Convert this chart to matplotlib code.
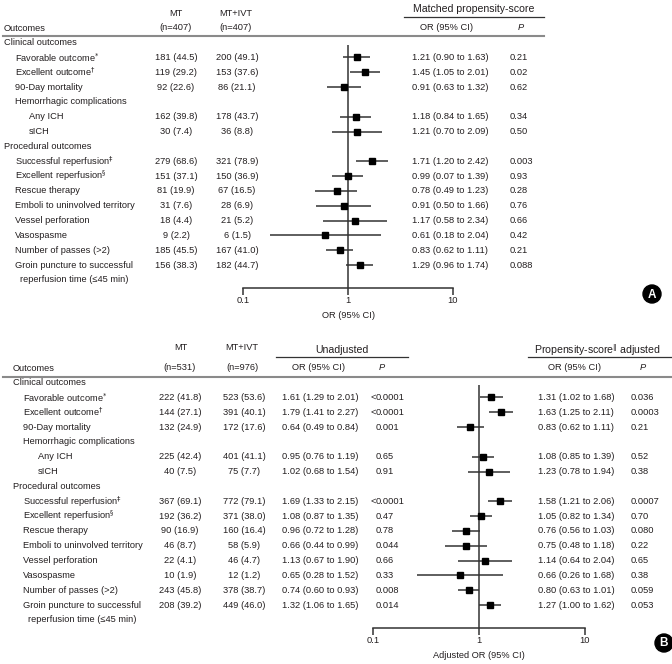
import matplotlib
matplotlib.use('Agg')
import matplotlib.pyplot as plt
from matplotlib.patches import Circle
from matplotlib.ticker import FixedLocator, FixedFormatter, NullLocator

plt.rcParams['font.family'] = ['Liberation Sans', 'DejaVu Sans']
plt.rcParams['mathtext.fontset'] = 'dejavusans'

# ---------------- data ----------------
row_labels = ['Clinical outcomes', r'Favorable outcome$^{*}$', r'Excellent outcome$^{\dagger}$',
              '90-Day mortality', 'Hemorrhagic complications', 'Any ICH', 'sICH',
              'Procedural outcomes', r'Successful reperfusion$^{\ddagger}$',
              r'Excellent reperfusion$^{\S}$', 'Rescue therapy', 'Emboli to uninvolved territory',
              'Vessel perforation', 'Vasospasme', 'Number of passes (>2)',
              'Groin puncture to successful\nreperfusion time (≤45 min)']
row_levels = [0, 1, 1, 1, 1, 2, 2, 0, 1, 1, 1, 1, 1, 1, 1, 1]
data_rows = [1, 2, 3, 5, 6, 8, 9, 10, 11, 12, 13, 14, 15]

# Panel A (matched propensity score, n=407 each)
mt_a_n = [181, 119, 92, 162, 30, 279, 151, 81, 31, 18, 9, 185, 156]
mt_a_pct = [44.5, 29.2, 22.6, 39.8, 7.4, 68.6, 37.1, 19.9, 7.6, 4.4, 2.2, 45.5, 38.3]
ivt_a_n = [200, 153, 86, 178, 36, 321, 150, 67, 28, 21, 6, 167, 182]
ivt_a_pct = [49.1, 37.6, 21.1, 43.7, 8.8, 78.9, 36.9, 16.5, 6.9, 5.2, 1.5, 41.0, 44.7]
or_a = [1.21, 1.45, 0.91, 1.18, 1.21, 1.71, 0.99, 0.78, 0.91, 1.17, 0.61, 0.83, 1.29]
lo_a = [0.90, 1.05, 0.63, 0.84, 0.70, 1.20, 0.70, 0.49, 0.50, 0.58, 0.18, 0.62, 0.96]   # as drawn
lo_a_printed = [0.90, 1.05, 0.63, 0.84, 0.70, 1.20, 0.07, 0.49, 0.50, 0.58, 0.18, 0.62, 0.96]
hi_a = [1.63, 2.01, 1.32, 1.65, 2.09, 2.42, 1.39, 1.23, 1.66, 2.34, 2.04, 1.11, 1.74]
p_a = ['0.21', '0.02', '0.62', '0.34', '0.50', '0.003', '0.93', '0.28', '0.76', '0.66', '0.42', '0.21', '0.088']

# Panel B (n=531 vs 976)
mt_b_n = [222, 144, 132, 225, 40, 367, 192, 90, 46, 22, 10, 243, 208]
mt_b_pct = [41.8, 27.1, 24.9, 42.4, 7.5, 69.1, 36.2, 16.9, 8.7, 4.1, 1.9, 45.8, 39.2]
ivt_b_n = [523, 391, 172, 401, 75, 772, 371, 160, 58, 46, 12, 378, 449]
ivt_b_pct = [53.6, 40.1, 17.6, 41.1, 7.7, 79.1, 38.0, 16.4, 5.9, 4.7, 1.2, 38.7, 46.0]
or_u = [1.61, 1.79, 0.64, 0.95, 1.02, 1.69, 1.08, 0.96, 0.66, 1.13, 0.65, 0.74, 1.32]
lo_u = [1.29, 1.41, 0.49, 0.76, 0.68, 1.33, 0.87, 0.72, 0.44, 0.67, 0.28, 0.60, 1.06]
hi_u = [2.01, 2.27, 0.84, 1.19, 1.54, 2.15, 1.35, 1.28, 0.99, 1.90, 1.52, 0.93, 1.65]
p_u = ['<0.0001', '<0.0001', '0.001', '0.65', '0.91', '<0.0001', '0.47', '0.78', '0.044',
       '0.66', '0.33', '0.008', '0.014']
or_b = [1.31, 1.63, 0.83, 1.08, 1.23, 1.58, 1.05, 0.76, 0.75, 1.14, 0.66, 0.80, 1.27]
lo_b = [1.02, 1.25, 0.62, 0.85, 0.78, 1.21, 0.82, 0.56, 0.48, 0.64, 0.26, 0.63, 1.00]
hi_b = [1.68, 2.11, 1.11, 1.39, 1.94, 2.06, 1.34, 1.03, 1.18, 2.04, 1.68, 1.01, 1.62]
p_b = ['0.036', '0.0003', '0.21', '0.52', '0.38', '0.0007', '0.70', '0.080', '0.22', '0.65',
       '0.38', '0.059', '0.053']

tick_vals = [0.1, 1, 10]
tick_labels = ['0.1', '1', '10']

# ---------------- styling ----------------
W, H = 672, 664
FS = 6.7
TXT = '#231f20'
GRID = '#8a8a8a'
LINE = '#333333'

fig = plt.figure(figsize=(W / 100, H / 100), dpi=100)
ax0 = fig.add_axes([0, 0, 1, 1])
ax0.set_xlim(0, W)
ax0.set_ylim(H, 0)
ax0.axis('off')

STEP = 14.84


def t(x, y, s, ha='left', **kw):
    kw.setdefault('fontsize', FS)
    kw.setdefault('color', TXT)
    ax0.text(x, y, s, ha=ha, va='center', **kw)


def cnt(n, p):
    return f'{n} ({p:.1f})'


def ci(o, l, h):
    return f'{o:.2f} ({l:.2f} to {h:.2f})'


def labels_block(y0, xs):
    for i, (lab, lev) in enumerate(zip(row_labels, row_levels)):
        y = y0 + i * STEP
        for j, part in enumerate(lab.split('\n')):
            t(xs[lev] + (5 if j else 0), y + j * STEP, part)


def forest(left, right, top, bottom, ref_top, o, l, h, xlabel, y0):
    ax = fig.add_axes([left / W, (H - bottom) / H, (right - left) / W, (bottom - top) / H])
    ax.patch.set_alpha(0)
    ax.set_xscale('log')
    ax.set_xlim(0.1, 10)
    ax.set_ylim(bottom, top)
    ys = [y0 + r * STEP for r in data_rows]
    ax.plot([1, 1], [ref_top, bottom], color=LINE, lw=1.1, solid_capstyle='butt', zorder=1)
    ax.hlines(ys, l, h, color=LINE, lw=1.1, zorder=2)
    ax.plot(o, ys, ls='none', marker='s', ms=5, color='black', zorder=3)
    for s in ['left', 'right', 'top']:
        ax.spines[s].set_visible(False)
    ax.spines['bottom'].set_color(LINE)
    ax.spines['bottom'].set_linewidth(1.1)
    ax.xaxis.set_major_locator(FixedLocator(tick_vals))
    ax.xaxis.set_major_formatter(FixedFormatter(tick_labels))
    ax.xaxis.set_minor_locator(NullLocator())
    ax.tick_params(axis='x', direction='out', length=5, width=1.1, color=LINE,
                   labelsize=FS, labelcolor=TXT, pad=1.0)
    ax.set_yticks([])
    ax.set_xlabel(xlabel, fontsize=FS, color=TXT, labelpad=4)
    return ax


# ================= Panel A =================
yA = 42.5
t(176, 13, 'MT', ha='center')
t(176, 27.5, '(n=407)', ha='center')
t(236, 13, 'MT+IVT', ha='center')
t(236, 27.5, '(n=407)', ha='center')
t(4, 28.5, 'Outcomes')
t(474, 9, 'Matched propensity-score', ha='center', fontsize=7.6)
ax0.plot([404, 544], [17, 17], color=LINE, lw=0.9)
t(447, 27.5, 'OR (95% CI)', ha='center')
t(521, 27.5, 'P', ha='center', style='italic')
ax0.plot([3, 544], [35.5, 35.5], color=GRID, lw=1.5)

labels_block(yA, {0: 4, 1: 15, 2: 29})
for k, r in enumerate(data_rows):
    y = yA + r * STEP
    t(176, y, cnt(mt_a_n[k], mt_a_pct[k]), ha='center')
    t(237, y, cnt(ivt_a_n[k], ivt_a_pct[k]), ha='center')
    t(412, y, ci(or_a[k], lo_a_printed[k], hi_a[k]))
    t(510, y, p_a[k])

forest(243, 453, 38, 288, 45, or_a, lo_a, hi_a, 'OR (95% CI)', yA)

ax0.add_patch(Circle((652, 294), 9, color='black', zorder=5))
ax0.text(652, 294.5, 'A', ha='center', va='center', color='white', fontsize=8.5,
         fontweight='bold', zorder=6)

# ================= Panel B =================
yB = 382.5
t(181, 347, 'MT', ha='center')
t(179, 368, '(n=531)', ha='center')
t(242, 347, 'MT+IVT', ha='center')
t(242, 368, '(n=976)', ha='center')
t(13, 368.5, 'Outcomes')
t(342, 350, 'Unadjusted', ha='center', fontsize=7.6)
ax0.plot([276, 408], [357, 357], color=LINE, lw=0.9)
t(318, 368, 'OR (95% CI)', ha='center')
t(382, 368, 'P', ha='center', style='italic')
t(597, 350, r'Propensity-score$^{\Vert}$ adjusted', ha='center', fontsize=7.6)
ax0.plot([528, 672], [357, 357], color=LINE, lw=0.9)
t(574, 368, 'OR (95% CI)', ha='center')
t(643, 368, 'P', ha='center', style='italic')
ax0.plot([3, 672], [377, 377], color=GRID, lw=1.5)

labels_block(yB, {0: 13, 1: 23, 2: 38})
for k, r in enumerate(data_rows):
    y = yB + r * STEP
    t(180, y, cnt(mt_b_n[k], mt_b_pct[k]), ha='center')
    t(244, y, cnt(ivt_b_n[k], ivt_b_pct[k]), ha='center')
    t(282, y, ci(or_u[k], lo_u[k], hi_u[k]))
    pu = p_u[k]
    if pu.startswith('<'):
        t(376, y, '<', ha='right')
        t(376, y, pu[1:])
    else:
        t(376, y, pu)
    t(538, y, ci(or_b[k], lo_b[k], hi_b[k]))
    t(631, y, p_b[k])

forest(373, 585, 378, 628, 385, or_b, lo_b, hi_b, 'Adjusted OR (95% CI)', yB)

ax0.add_patch(Circle((664, 643), 9, color='black', zorder=5))
ax0.text(664, 643.5, 'B', ha='center', va='center', color='white', fontsize=8.5,
         fontweight='bold', zorder=6)

fig.savefig('out.png', dpi=100)
